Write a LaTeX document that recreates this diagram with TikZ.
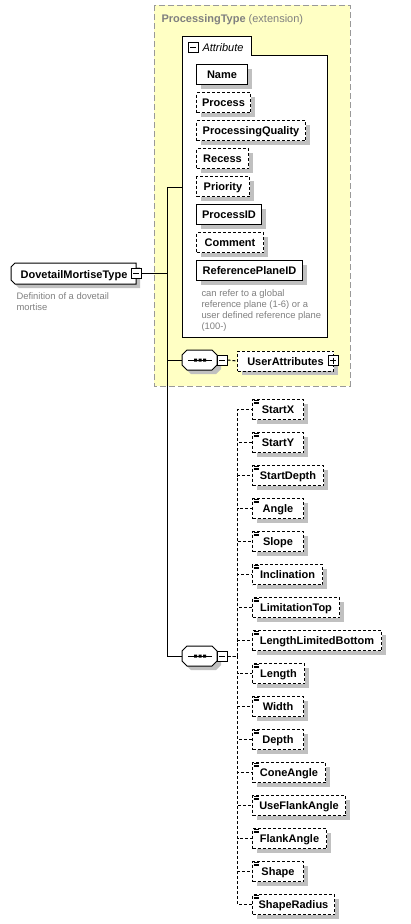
\documentclass[tikz,border=0pt]{standalone}
\usepackage{fontspec}
\setmainfont{Liberation Sans}
\usetikzlibrary{shadows,calc}
\definecolor{yel}{HTML}{FFFFC4}
\definecolor{shgray}{HTML}{C0C0C0}
\definecolor{frgray}{HTML}{999999}
\definecolor{txgray}{HTML}{808080}
\begin{document}
\begin{tikzpicture}[x=1pt,y=-1pt,line width=1pt,
 bf/.style={font=\fontsize{11}{13}\selectfont\bfseries},
 sh/.style={drop shadow={shadow xshift=4pt,shadow yshift=-4pt,fill=shgray,opacity=1}},
 box/.style={draw=black,fill=white,inner sep=0pt,minimum height=20pt,text height=8pt,text depth=0pt,anchor=north west,bf,sh},
 dbox/.style={box,dash pattern=on 3pt off 2pt},
 dline/.style={dash pattern=on 3pt off 2pt},
 mbox/.style={draw=black,fill=white,minimum size=10pt,inner sep=0pt,
   path picture={\draw[line width=1pt] ([xshift=2pt]path picture bounding box.west) -- ([xshift=-2pt]path picture bounding box.east);}},
 pbox/.style={draw=black,fill=white,minimum size=10pt,inner sep=0pt,
   path picture={\draw[line width=1pt] ([xshift=2pt]path picture bounding box.west) -- ([xshift=-2pt]path picture bounding box.east);
                 \draw[line width=1pt] ([yshift=-2pt]path picture bounding box.north) -- ([yshift=2pt]path picture bounding box.south);}},
 desc/.style={font=\fontsize{9.4}{11}\selectfont,text=txgray,align=left,inner sep=0pt,anchor=north west},
 hold/.style={inner sep=0pt,anchor=north west},
 icon/.style={line width=0.6pt}
]
\useasboundingbox (0,0) rectangle (410,924);

% extension frame
\draw[fill=yel,draw=frgray,dash pattern=on 6pt off 3pt] (154,5) rectangle (350,386);
\node[anchor=base west,inner sep=0pt,text=txgray,font=\fontsize{11}{13}\selectfont] (ptl) at (161,22) {\textbf{ProcessingType} (extension)};

% attribute group
\node[hold,minimum width=145,minimum height=301] (attr) at (182,36) {};
\draw[fill=white] (182,36) -- (251,36) -- (251,55) -- (327,55) -- (327,337) -- (182,337) -- cycle;
\node[mbox] (am) at (193,47.5) {};
\node[anchor=base west,inner sep=0pt,font=\fontsize{11}{13}\selectfont\itshape] (atl) at (202,51) {Attribute};

\node[box,minimum width=51] (name) at (196,64) {Name};
\node[dbox,minimum width=54] (process) at (196,92) {Process};
\node[dbox,minimum width=109] (pq) at (196,120) {ProcessingQuality};
\node[dbox,minimum width=52] (recess) at (196,148) {Recess};
\node[dbox,minimum width=53] (priority) at (196,176) {Priority};
\node[box,minimum width=65] (pid) at (196,204) {ProcessID};
\node[dbox,minimum width=67] (comment) at (196,232) {Comment};
\node[box,minimum width=106] (rpid) at (196,260) {ReferencePlaneID};
\node[desc] (rpdesc) at (201,289) {can refer to a global\\reference plane (1-6) or a\\user defined reference plane\\(100-)};

% root element
\fill[shgray] (19,267) -- (140,267) -- (140,288) -- (19,288) -- (15,284) -- (15,271) -- cycle;
\draw[fill=white] (15,263) -- (136,263) -- (136,284) -- (15,284) -- (11,280) -- (11,267) -- cycle;
\node[hold,minimum width=125,minimum height=21,text height=8pt,text depth=0pt,bf] (dm) at (11,263) {DovetailMortiseType\hspace{7pt}};
\node[mbox] (dmm) at (136,273.5) {};
\node[desc] (dmdesc) at (16,292) {Definition of a dovetail\\mortise};

% sequence A
\fill[shgray] (191,354) -- (216,354) -- (221,359) -- (221,369) -- (216,374) -- (191,374) -- (186,369) -- (186,359) -- cycle;
\draw[fill=white] (187,350) -- (212,350) -- (217,355) -- (217,365) -- (212,370) -- (187,370) -- (182,365) -- (182,355) -- cycle;
\node[hold,minimum width=35,minimum height=20] (seqA) at (182,350) {};
\draw (188,360) -- (212,360);
\fill (194,358.5) rectangle +(3,3) (198.5,358.5) rectangle +(3,3) (203,358.5) rectangle +(3,3);
\node[mbox] (ma) at (222,360) {};
\node[dbox,minimum width=96] (ua) at (237,350.5) {UserAttributes\hspace{5pt}};
\node[pbox] (uap) at (333,360.5) {};
\draw[dline] (ma.east) -- (ua.west);

% sequence B
\fill[shgray] (191,650) -- (216,650) -- (221,655) -- (221,665) -- (216,670) -- (191,670) -- (186,665) -- (186,655) -- cycle;
\draw[fill=white] (187,646) -- (212,646) -- (217,651) -- (217,661) -- (212,666) -- (187,666) -- (182,661) -- (182,651) -- cycle;
\node[hold,minimum width=35,minimum height=20] (seqB) at (182,646) {};
\draw (188,656) -- (212,656);
\fill (194,654.5) rectangle +(3,3) (198.5,654.5) rectangle +(3,3) (203,654.5) rectangle +(3,3);
\node[mbox] (mb) at (222,656) {};

% trunk
\draw (dmm.east) -- ++(26,0) |- (attr.west);
\draw (dmm.east) -- ++(26,0) |- (seqA.west);
\draw (dmm.east) -- ++(26,0) |- (seqB.west);

% elements
\foreach \n/\t/\w [count=\i from 0] in {ex/StartX/51, ey/StartY/51, sd/StartDepth/71, an/Angle/51, sl/Slope/51, inc/Inclination/70, lt/LimitationTop/87, llb/LengthLimitedBottom/129, le/Length/52, wi/Width/51, de/Depth/51, ca/ConeAngle/73, ufa/UseFlankAngle/93, fa/FlankAngle/74, sha/Shape/51, shr/ShapeRadius/82}{
  \node[dbox,minimum width=\w] (\n) at (252,399+33*\i) {\t};
  \draw[icon] ([shift={(1.5,1.5)}]\n.north west) -- ++(5,0);
  \draw[icon] ([shift={(1.5,3)}]\n.north west) -- ++(5,0);
  \draw[icon] ([shift={(1.5,4.5)}]\n.north west) -- ++(5,0);
  \draw[dline] (mb.east) -- ++(10,0) |- (\n.west);
}
\end{tikzpicture}
\end{document}
